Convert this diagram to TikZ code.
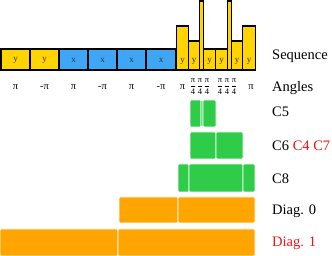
\documentclass[tikz,border=0pt]{standalone}
\usepackage{amsmath}
\usepackage{fontspec}
\setmainfont{Liberation Serif}
\definecolor{gy}{RGB}{255,212,0}
\definecolor{bx}{RGB}{62,166,245}
\definecolor{gr}{RGB}{46,204,72}
\definecolor{org}{RGB}{255,165,0}
\definecolor{rd}{RGB}{240,20,20}
\tikzset{
  gate/.style={draw=black, line width=1.7pt, anchor=north west, inner sep=0pt, outer sep=0pt},
  ygate/.style={gate, fill=gy},
  xgate/.style={gate, fill=bx},
  glet/.style={font=\fontsize{9}{9}\selectfont, text=black!80, inner sep=0pt},
  ang/.style={font=\fontsize{10.5}{11}\selectfont, inner sep=0pt},
  fr/.style={font=\fontsize{8.5}{8.5}\selectfont, inner sep=0pt},
  lab/.style={font=\fontsize{14.5}{16}\selectfont, anchor=base west, inner sep=0pt},
  blk/.style={draw=white, line width=0.7pt, rounded corners=1.2pt, anchor=north west, inner sep=0pt, outer sep=0pt},
  gblk/.style={blk, fill=gr},
  oblk/.style={blk, fill=org},
}
\newcommand{\qf}{$\genfrac{}{}{0.35pt}{0}{\mbox{π}}{\mbox{4}}$}
\begin{document}
\begin{tikzpicture}[x=1pt, y=-1pt]
\useasboundingbox (0,0) rectangle (332,256);
% sequence gates
\node[ygate, minimum width=29pt, minimum height=21pt] (g1) at (1,49) {};
\node[ygate, minimum width=29pt, minimum height=21pt] (g2) at (30,49) {};
\node[xgate, minimum width=29pt, minimum height=21pt] (g3) at (59,49) {};
\node[xgate, minimum width=29pt, minimum height=21pt] (g4) at (88,49) {};
\node[xgate, minimum width=29pt, minimum height=21pt] (g5) at (117,49) {};
\node[xgate, minimum width=30pt, minimum height=21pt] (g6) at (146,49) {};
\node[ygate, minimum width=12pt, minimum height=44pt] (g7) at (176.5,26) {};
\node[ygate, minimum width=11pt, minimum height=29pt] (g8) at (188.5,41) {};
\node[ygate, minimum width=4pt, minimum height=69pt] (g9) at (199.5,1) {};
\node[ygate, minimum width=12pt, minimum height=21pt] (g10) at (203.5,49) {};
\node[ygate, minimum width=12pt, minimum height=21pt] (g11) at (215.5,49) {};
\node[ygate, minimum width=4pt, minimum height=69pt] (g12) at (227.5,1) {};
\node[ygate, minimum width=11pt, minimum height=29pt] (g13) at (231.5,41) {};
\node[ygate, minimum width=13pt, minimum height=44pt] (g14) at (242.5,26) {};
% gate letters
\node[glet] (l1) at (15.5,60) {y};
\node[glet] (l2) at (44.5,60) {y};
\node[glet] (l3) at (73.5,60) {x};
\node[glet] (l4) at (102.5,60) {x};
\node[glet] (l5) at (131.5,60) {x};
\node[glet] (l6) at (161,60) {x};
\node[glet] (l7) at (182.5,61) {y};
\node[glet] (l8) at (194,61) {y};
\node[glet] (l10) at (209.5,61) {y};
\node[glet] (l11) at (221.5,61) {y};
\node[glet] (l13) at (237,61) {y};
\node[glet] (l14) at (249,61) {y};
% angles
\node[ang] (a1) at (15.5,87) {π};
\node[ang] (a2) at (44.5,87) {-π};
\node[ang] (a3) at (73.5,87) {π};
\node[ang] (a4) at (102.5,87) {-π};
\node[ang] (a5) at (131.5,87) {π};
\node[ang] (a6) at (161,87) {-π};
\node[ang] (a7) at (182.5,87) {π};
\node[fr] (a8) at (193,86.5) {\qf};
\node[fr] (a9) at (200,86.5) {\qf};
\node[fr] (a10) at (207,86.5) {\qf};
\node[fr] (a11) at (220,86.5) {\qf};
\node[fr] (a12) at (227,86.5) {\qf};
\node[fr] (a13) at (234,86.5) {\qf};
\node[ang] (a14) at (251,87) {π};
% C5
\node[gblk, minimum width=11pt, minimum height=27pt] (c5a) at (190,100) {};
\node[gblk, minimum width=2pt, minimum height=27pt] (c5b) at (201,100) {};
\node[gblk, minimum width=13pt, minimum height=27pt] (c5c) at (203,100) {};
% C6
\node[gblk, minimum width=26pt, minimum height=27pt] (c6a) at (190,132) {};
\node[gblk, minimum width=27pt, minimum height=27pt] (c6b) at (216,132) {};
% C8
\node[gblk, minimum width=11pt, minimum height=28pt] (c8a) at (178,164) {};
\node[gblk, minimum width=54pt, minimum height=28pt] (c8b) at (189,164) {};
\node[gblk, minimum width=12pt, minimum height=28pt] (c8c) at (243,164) {};
% Diag 0
\node[oblk, minimum width=59pt, minimum height=26pt] (d0a) at (119,197) {};
\node[oblk, minimum width=77pt, minimum height=26pt] (d0b) at (178,197) {};
% Diag 1
\node[oblk, minimum width=118pt, minimum height=27pt] (d1a) at (0,229) {};
\node[oblk, minimum width=137pt, minimum height=27pt] (d1b) at (118,229) {};
% labels
\node[lab] (tseq) at (272,60) {Sequence};
\node[lab] (tang) at (272,92) {Angles};
\node[lab] (tc5) at (272,117) {C5};
\node[lab] (tc6) at (272,151) {C6 \textcolor{rd}{C4 C7}};
\node[lab] (tc8) at (272,184) {C8};
\node[lab] (td0) at (272,215) {Diag. 0};
\node[lab, text=rd] (td1) at (272,247) {Diag. 1};
\end{tikzpicture}
\end{document}
